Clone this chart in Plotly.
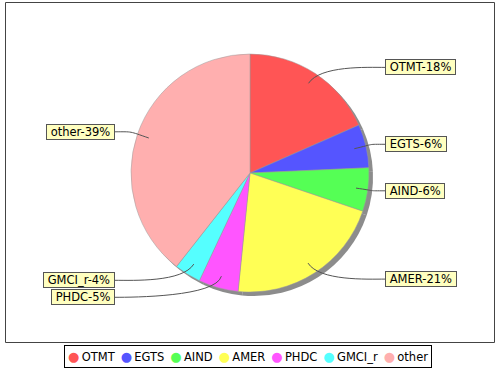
import math
import plotly.graph_objects as go

# ---- data ----
categories = ["OTMT", "EGTS", "AIND", "AMER", "PHDC", "GMCI_r", "other"]
shares = [18.4, 5.9, 5.9, 21.4, 5.4, 3.6, 39.4]
colors = ["#FF5555", "#5555FF", "#55FF55", "#FFFF55", "#FF55FF", "#55FFFF", "#FFAFAF"]

# ---- layout constants (pixels) ----
W, H = 500, 370
CX, CY, R = 250, 173, 119
SHADOW = 4
FONT = "DejaVu Sans"
NB = "\u00a0"
THIN = "\u2009"

total = sum(shares)

fig = go.Figure()
# pixel-space helper axes for decorations
fig.add_trace(go.Scatter(x=[None], y=[None], showlegend=False, hoverinfo="skip"))


def dom(cx, cy):
    return dict(x=[(cx - R) / W, (cx + R) / W], y=[(H - cy - R) / H, (H - cy + R) / H])


# shadow pie
fig.add_trace(go.Pie(
    labels=categories, values=shares, sort=False, direction="clockwise", rotation=0,
    marker=dict(colors=["#8C8C8C"] * len(categories), line=dict(width=0)),
    textinfo="none", hoverinfo="skip", showlegend=False,
    domain=dom(CX + SHADOW, CY + SHADOW),
))
# main pie
fig.add_trace(go.Pie(
    labels=categories, values=shares, sort=False, direction="clockwise", rotation=0,
    marker=dict(colors=colors, line=dict(color="#9A9A9A", width=0.5)),
    textinfo="none", showlegend=False,
    domain=dom(CX, CY),
))

# ---- labels with leader lines ----
annotations = []
shapes = []
labels_info = []
acc = 0.0
for cat, v in zip(categories, shares):
    ang = (acc + v / 2) / total * 2 * math.pi
    acc += v
    s, c = math.sin(ang), math.cos(ang)
    side = 1 if s >= 0 else -1
    ly = CY - 1.06 * R * c
    labels_info.append(dict(cat=cat, v=v, s=s, c=c, side=side, ly=ly))

# simple overlap resolution per side
MIN_GAP = 17
for side in (1, -1):
    items = sorted([d for d in labels_info if d["side"] == side], key=lambda d: d["ly"])
    for a, b in zip(items, items[1:]):
        if b["ly"] - a["ly"] < MIN_GAP:
            b["ly"] = a["ly"] + MIN_GAP

for d in labels_info:
    side, s, c, ly = d["side"], d["s"], d["c"], d["ly"]
    pct = round(d["v"] / total * 100)
    text = f"{NB}{d['cat']}-{pct}%{NB}"
    tx = CX + side * 135
    xanchor = "left" if side == 1 else "right"
    annotations.append(dict(
        x=tx, y=ly, xref="x", yref="y", text=text, showarrow=False,
        xanchor=xanchor, yanchor="middle",
        font=dict(family=FONT, size=11.5, color="black"),
        bgcolor="#FFFFC0", bordercolor="#555555", borderwidth=1, borderpad=0,
    ))
    ax, ay = CX + 0.9 * R * s, CY - 0.9 * R * c
    ex, ey = CX + 1.08 * R * s, CY - 1.08 * R * c
    c2x, c2y = tx - side * 18, ly
    shapes.append(dict(
        type="path", xref="x", yref="y", layer="above",
        path=f"M {ax:.1f},{ay:.1f} C {ex:.1f},{ey:.1f} {c2x:.1f},{c2y:.1f} {tx:.1f},{ly:.1f}",
        line=dict(color="#555555", width=1),
    ))

# plot outline
shapes.append(dict(type="rect", xref="x", yref="y", x0=5.5, y0=2.5, x1=494.5, y1=342.5,
                   line=dict(color="#444444", width=1), layer="above"))

# ---- legend (text row with coloured bullets) ----
parts = [f"<span style='color:{col};font-size:13px'>●</span>{THIN}{cat}" for cat, col in zip(categories, colors)]
legend_text = (NB + THIN).join(parts)
annotations.append(dict(
    x=248, y=356, xref="x", yref="y", text=legend_text, showarrow=False,
    xanchor="center", yanchor="middle",
    font=dict(family=FONT, size=11.5, color="black"),
    bgcolor="white", bordercolor="black", borderwidth=1, borderpad=3,
))

fig.update_layout(
    width=W, height=H, margin=dict(l=0, r=0, t=0, b=0),
    paper_bgcolor="white", plot_bgcolor="white",
    xaxis=dict(range=[0, W], visible=False, fixedrange=True, domain=[0, 1]),
    yaxis=dict(range=[H, 0], visible=False, fixedrange=True, domain=[0, 1]),
    annotations=annotations, shapes=shapes, showlegend=False,
)

fig.write_html(
    "out.html",
    config={"displayModeBar": False},
    post_script="document.body.style.margin='0';document.body.style.overflow='hidden';"
                "document.documentElement.style.overflow='hidden';",
)
